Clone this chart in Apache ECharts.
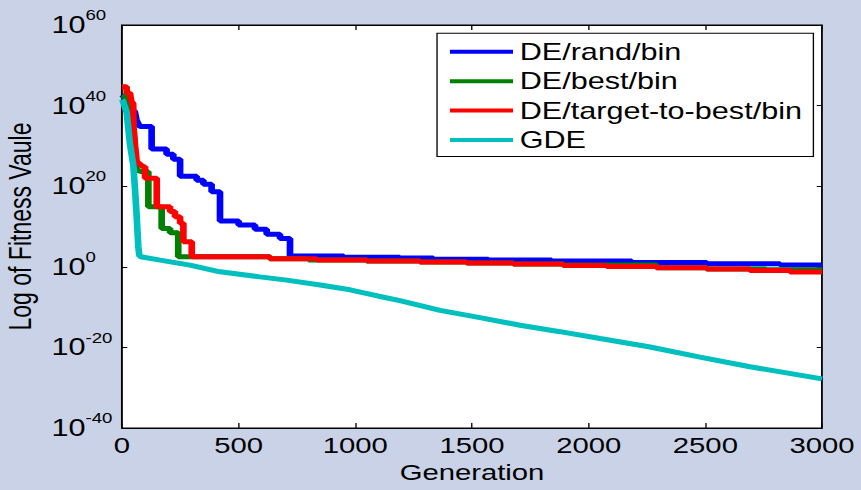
<!DOCTYPE html>
<html>
<head>
<meta charset="utf-8">
<script src="https://cdn.jsdelivr.net/npm/echarts/dist/echarts.min.js"></script>
<style>
html,body{margin:0;padding:0;background:#c9d2e6;overflow:hidden;width:861px;height:490px}
#chart{width:647px;height:490px;transform:scaleX(1.3308);transform-origin:0 0}
</style>
</head>
<body>
<div id="chart"></div>
<script>
// ---- data (generation, log10 of fitness) ----
const seriesNames = ['DE/rand/bin', 'DE/best/bin', 'DE/target-to-best/bin', 'GDE'];
const seriesColors = ['#0000ff', '#008000', '#ff0000', '#00bfbf'];
const xTicks = [0, 500, 1000, 1500, 2000, 2500, 3000];
const yExponents = [-40, -20, 0, 20, 40, 60];

const deRandBin = [[0,42.7],[10,42.2],[25,40.6],[40,39.0],[55,38.5],[62,36.5],[70,35.5],[77,34.8],[127,34.8],[127,29.2],[191,29.2],[191,27.9],[220,27.9],[220,26.7],[249,26.7],[249,22.5],[320,22.5],[320,21.5],[349,21.5],[349,20.5],[384,20.5],[384,18.6],[420,18.6],[420,11.35],[500,11.35],[500,10.4],[570,10.4],[570,9.3],[620,9.3],[620,8.1],[677,8.1],[677,7.05],[720,7.05],[720,2.66],[950,2.66],[950,2.4],[1190,2.4],[1190,2.2],[1334,2.2],[1334,1.9],[1570,1.9],[1570,1.66],[1841,1.66],[1841,1.42],[2184,1.42],[2184,1.09],[2506,1.09],[2506,0.75],[2820,0.75],[2820,0.42],[3000,0.42]];

const deBestBin = [[0,42.5],[20,42],[35,41],[45,38],[52,32],[58,27],[63,24],[85,23.6],[113,23.6],[113,14.9],[170,14.9],[170,9.5],[206,9.5],[206,8.45],[241,8.45],[241,2.49],[634,2.49],[634,2.0],[800,2.0],[800,1.66],[1049,1.66],[1049,1.42],[1277,1.42],[1277,1.17],[1477,1.17],[1477,0.92],[1677,0.92],[1677,0.67],[1891,0.67],[1891,0.45],[2291,0.45],[2291,-0.24],[2506,-0.24],[2506,-0.57],[2760,-0.57],[2760,-0.75],[3000,-0.75]];

const deTargetToBestBin = [[0,44.7],[20,44.7],[20,43.1],[34,43.1],[40,41],[48,40.5],[49,34.8],[56,30],[63,26.1],[91,24.8],[99,24.8],[99,22],[149,22],[149,14.9],[206,14.9],[206,13.7],[227,13.7],[227,12.4],[249,12.4],[249,10.8],[263,10.8],[263,6.2],[299,6.2],[299,2.49],[634,2.49],[634,2.0],[834,2.0],[834,1.66],[1049,1.66],[1049,1.42],[1277,1.42],[1277,1.17],[1477,1.17],[1477,0.92],[1677,0.92],[1677,0.67],[1891,0.67],[1891,0.35],[2077,0.35],[2077,0.1],[2291,0.1],[2291,-0.24],[2506,-0.24],[2506,-0.57],[2691,-0.57],[2691,-0.9],[2863,-0.9],[2863,-1.32],[3000,-1.32]];

const gde = [[0,41.5],[5,41],[20,38.3],[34,30.5],[49,25],[56,19],[63,12.5],[70,5],[74,2.9],[80,2.5],[163,1.66],[291,0.42],[420,-1.24],[591,-2.5],[706,-3.3],[849,-4.5],[977,-5.7],[1100,-7.3],[1191,-8.4],[1363,-10.8],[1534,-12.6],[1706,-14.5],[1877,-16.1],[2049,-17.8],[2263,-19.9],[2477,-22.4],[2691,-24.8],[3000,-27.8]];

const seriesData = [deRandBin, deBestBin, deTargetToBestBin, gde];

// ---- chart ----
const FONT = 'Liberation Sans, Arial, sans-serif';
const chart = echarts.init(document.getElementById('chart'), null, { renderer: 'svg' });

const xMin = xTicks[0], xMax = xTicks[xTicks.length - 1], xInt = xTicks[1] - xTicks[0];
const yMin = yExponents[0], yMax = yExponents[yExponents.length - 1], yInt = yExponents[1] - yExponents[0];

const gridCfg = { left: 91.67, right: 29.3, top: 25, bottom: 62, show: true, backgroundColor: '#ffffff', borderColor: '#000', borderWidth: 1, outerBoundsMode: 'none', containLabel: false };

chart.setOption({
  animation: false,
  backgroundColor: 'transparent',
  grid: gridCfg,
  legend: {
    data: seriesNames,
    orient: 'vertical',
    left: 328.4,
    top: 33.3,
    padding: [6.4, 8.5, 4.6, 9.7],
    itemGap: 5.43,
    itemWidth: 47.4,
    itemHeight: 4,
    icon: 'rect',
    backgroundColor: '#ffffff',
    borderColor: '#000',
    borderWidth: 1,
    borderRadius: 0,
    textStyle: { fontFamily: FONT, fontSize: 23, lineHeight: 24, color: '#000' }
  },
  xAxis: [{
    type: 'value', min: xMin, max: xMax, interval: xInt,
    name: 'Generation', nameLocation: 'middle', nameGap: 27.5,
    nameTextStyle: { fontFamily: FONT, fontSize: 22, color: '#000' },
    axisLine: { show: true, onZero: false, lineStyle: { color: '#000', width: 1.2 } },
    axisTick: { show: true, inside: true, length: 5, lineStyle: { color: '#000' } },
    axisLabel: { fontFamily: FONT, fontSize: 22, color: '#000', margin: 6.5, showMinLabel: true, showMaxLabel: true, hideOverlap: false,
      formatter: function (v) { return String(v); } },
    splitLine: { show: false }
  }, {
    type: 'value', position: 'top', min: xMin, max: xMax, interval: xInt,
    axisLine: { show: true, onZero: false, lineStyle: { color: '#000', width: 1 } },
    axisTick: { show: true, inside: true, length: 5, lineStyle: { color: '#000' } },
    axisLabel: { show: false },
    splitLine: { show: false }
  }],
  yAxis: [{
    type: 'value', min: yMin, max: yMax, interval: yInt,
    name: 'Log of Fitness Vaule', nameLocation: 'middle', nameGap: 65,
    nameTextStyle: { fontFamily: FONT, fontSize: 23, color: '#000' },
    axisLine: { show: true, onZero: false, lineStyle: { color: '#000', width: 1.2 } },
    axisTick: { show: true, inside: true, length: 4, lineStyle: { color: '#000' } },
    axisLabel: {
      align: 'left', margin: 53, showMinLabel: true, showMaxLabel: true, hideOverlap: false,
      formatter: function (v) { return '{b|10}{s|' + v + '}'; },
      rich: {
        b: { fontFamily: FONT, fontSize: 23, lineHeight: 34, verticalAlign: 'middle', color: '#000' },
        s: { fontFamily: FONT, fontSize: 14, lineHeight: 14, verticalAlign: 'top', color: '#000' }
      }
    },
    splitLine: { show: false }
  }, {
    type: 'value', position: 'right', min: yMin, max: yMax, interval: yInt,
    axisLine: { show: true, onZero: false, lineStyle: { color: '#000', width: 1 } },
    axisTick: { show: true, inside: true, length: 4, lineStyle: { color: '#000' } },
    axisLabel: { show: false },
    splitLine: { show: false }
  }],
  series: seriesNames.map(function (name, i) {
    return {
      name: name,
      type: 'line',
      xAxisIndex: 0,
      yAxisIndex: 0,
      data: seriesData[i],
      showSymbol: false,
      symbol: 'none',
      color: seriesColors[i],
      lineStyle: { color: seriesColors[i], width: 5 },
      emphasis: { disabled: true }
    };
  })
});
</script>
</body>
</html>
